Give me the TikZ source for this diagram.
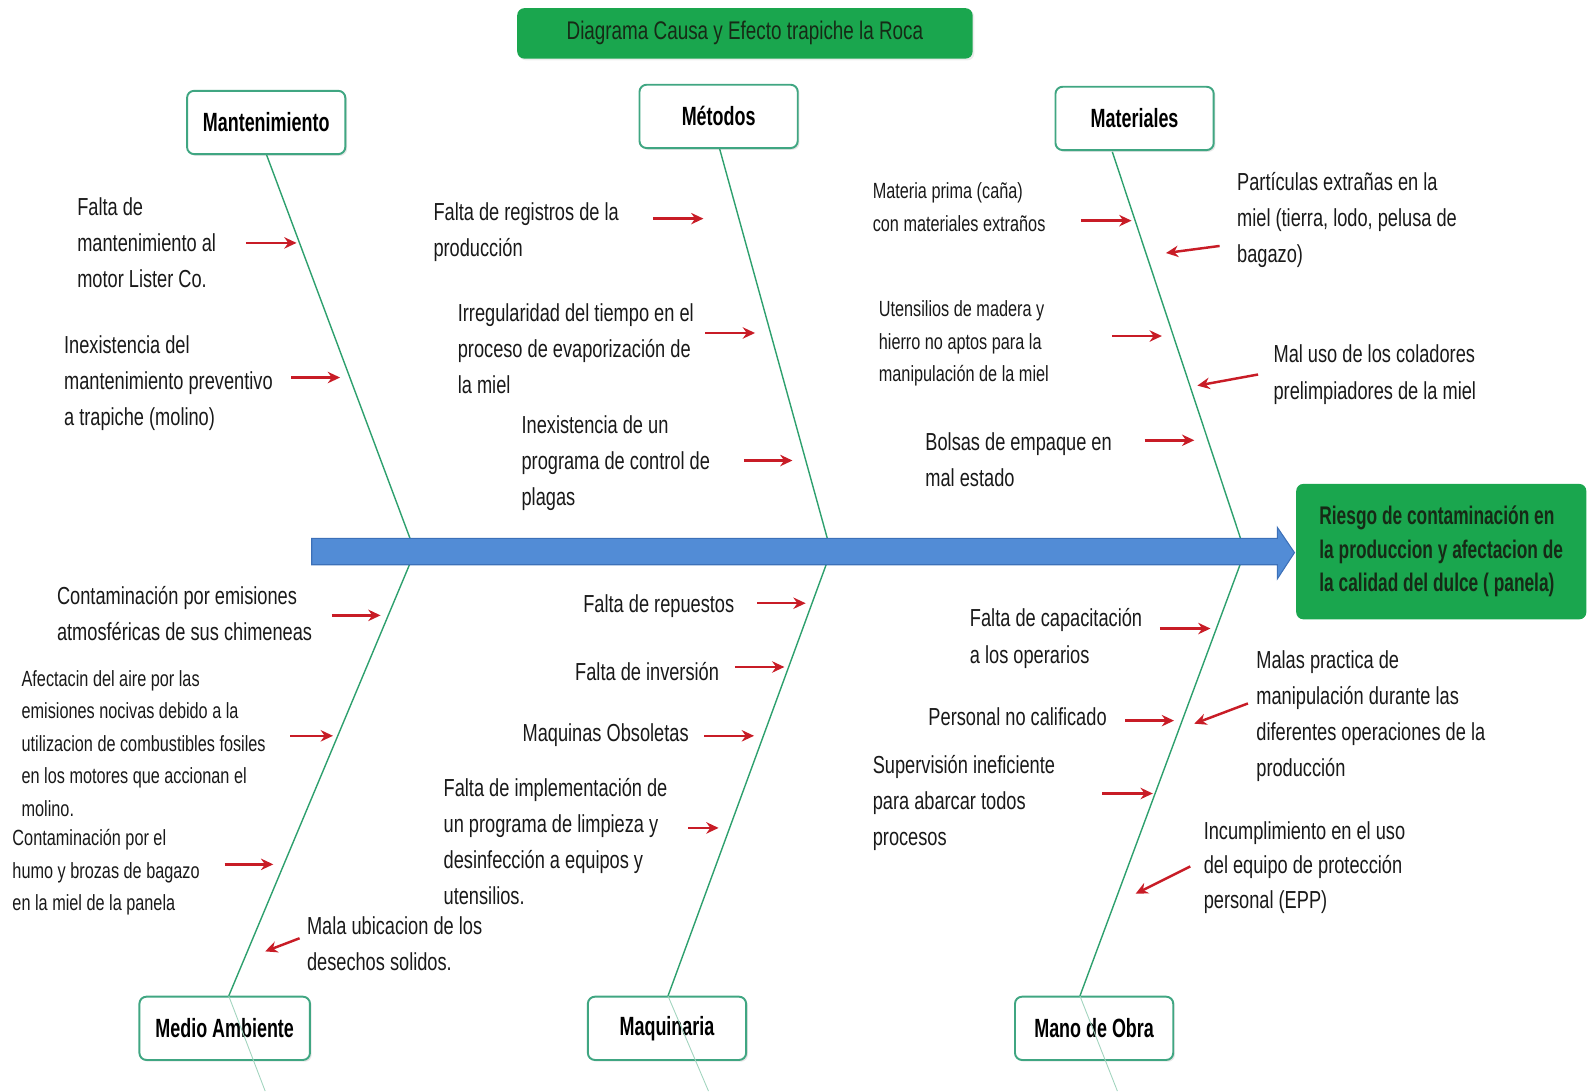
\documentclass[tikz,border=0pt]{standalone}
\usepackage{fontspec}
\setmainfont{Liberation Sans}[FakeStretch=0.74]
\newfontfamily\catfont{Liberation Sans}[FakeStretch=0.68]
\usetikzlibrary{arrows.meta,shadows}

\definecolor{fishgreen}{RGB}{26,166,78}
\definecolor{darkleaf}{RGB}{22,42,22}
\definecolor{catline}{RGB}{64,166,130}
\definecolor{boneline}{RGB}{46,160,110}
\definecolor{causered}{RGB}{200,28,38}
\definecolor{spineblue}{RGB}{82,140,214}
\definecolor{spineedge}{RGB}{60,112,184}
\definecolor{txtgray}{RGB}{25,25,25}

\tikzset{
  catbox/.style={draw=catline, line width=1.1pt, fill=white, rounded corners=4pt,
    minimum width=90pt, minimum height=36pt,
    drop shadow={opacity=0.2, shadow xshift=1pt, shadow yshift=-1pt},
    font=\catfont\bfseries\fontsize{15}{18}\selectfont},
  greenbox/.style={fill=fishgreen, rounded corners=4pt, text=darkleaf},
  textbase/.style={anchor=north west, inner sep=0pt, align=left, text=txtgray,
    execute at begin node=\strut},
  causetext/.style={textbase, yshift=9.75pt, font=\fontsize{14}{20.5}\selectfont},
  smalltext/.style={textbase, yshift=8.6pt, font=\fontsize{12.5}{18.5}\selectfont},
  bone/.style={draw=boneline, line width=0.8pt},
  tail/.style={draw=boneline!45, line width=0.5pt},
  cause/.style={draw=causered, line width=1.4pt, -{Stealth[length=7pt,width=6.5pt]}}
}

\begin{document}
\begin{tikzpicture}[x=0.02024cm, y=-0.02024cm]
  \useasboundingbox (0,0) rectangle (1568,1078);

  % Bones
  \coordinate (j1) at (410,545);
  \coordinate (j2) at (821,545);
  \coordinate (j3) at (1230,545);
  \coordinate (b1top) at (263,152);
  \coordinate (b2top) at (711,147);
  \coordinate (b3top) at (1099,150);
  \coordinate (b4bot) at (226,984);
  \coordinate (b5bot) at (660,984);
  \coordinate (b6bot) at (1067,984);
  \draw[bone] (b1top) -- (j1) -- (b4bot);
  \draw[bone] (b2top) -- (j2) -- (b5bot);
  \draw[bone] (b3top) -- (j3) -- (b6bot);

  % Spine
  \draw[fill=spineblue, draw=spineedge, line width=0.6pt]
    (308,532) -- (1262,532) -- (1262,521) -- (1279,546) -- (1262,572)
    -- (1262,558) -- (308,558) -- cycle;

  % Title
  \node[greenbox, minimum width=259pt, minimum height=28.7pt,
    drop shadow={opacity=0.15, shadow xshift=1pt, shadow yshift=-1pt},
    font=\fontsize{14.5}{17}\selectfont] (title) at (736,33)
    {Diagrama Causa y Efecto trapiche la Roca};

  % Effect
  \node[greenbox, minimum width=165pt, minimum height=77pt, align=left,
    font=\catfont\bfseries\fontsize{14.5}{19}\selectfont]
    (effect) at (1424,545)
    {Riesgo de contaminación en\\la produccion y afectacion de\\la calidad del dulce ( panela)};

  % Categories
  \node[catbox] (mant) at (263,121) {Mantenimiento};
  \node[catbox] (metod) at (710,115) {Métodos};
  \node[catbox] (mater) at (1121,117) {Materiales};
  \node[catbox, minimum width=97pt] (medio) at (222,1016) {Medio Ambiente};
  \node[catbox] (maqui) at (659,1016) {Maquinaria};
  \node[catbox] (mano) at (1081,1016) {Mano de Obra};

  \coordinate (t4) at (262,1078);
  \coordinate (t5) at (700,1078);
  \coordinate (t6) at (1104,1078);
  \draw[tail] (b4bot) -- (t4);
  \draw[tail] (b5bot) -- (t5);
  \draw[tail] (b6bot) -- (t6);

  % Causes: Mantenimiento
  \node[causetext] (c11) at (76,212) {Falta de\\mantenimiento al\\motor Lister Co.};
  \node[causetext] (c12) at (63,348) {Inexistencia del\\mantenimiento preventivo\\a trapiche (molino)};

  % Causes: Metodos
  \node[causetext] (c21) at (428,217) {Falta de registros de la\\producción};
  \node[causetext] (c22) at (452,317) {Irregularidad del tiempo en el\\proceso de evaporización de\\la miel};
  \node[causetext] (c23) at (515,427) {Inexistencia de un\\programa de control de\\plagas};

  % Causes: Materiales
  \node[smalltext] (c31) at (862,195) {Materia prima (caña)\\con materiales extraños};
  \node[causetext] (c32) at (1222,187) {Partículas extrañas en la\\miel (tierra, lodo, pelusa de\\bagazo)};
  \node[smalltext] (c33) at (868,312) {Utensilios de madera y\\hierro no aptos para la\\manipulación de la miel};
  \node[causetext, font=\fontsize{14}{21}\selectfont] (c34) at (1258,357) {Mal uso de los coladores\\prelimpiadores de la miel};
  \node[causetext] (c35) at (914,444) {Bolsas de empaque en\\mal estado};

  % Causes: Medio Ambiente
  \node[causetext] (c41) at (56,596) {Contaminación por emisiones\\atmosféricas de sus chimeneas};
  \node[smalltext] (c42) at (21,677) {Afectacin del aire por las\\emisiones nocivas debido a la\\utilizacion de combustibles fosiles\\en los motores que accionan el\\molino.};
  \node[smalltext] (c43) at (12,834) {Contaminación por el\\humo y brozas de bagazo\\en la miel de la panela};
  \node[causetext] (c44) at (303,922) {Mala ubicacion de los\\desechos solidos.};

  % Causes: Maquinaria
  \node[causetext] (c51) at (576,597) {Falta de repuestos};
  \node[causetext] (c52) at (568,664) {Falta de inversión};
  \node[causetext] (c53) at (516,724) {Maquinas Obsoletas};
  \node[causetext] (c54) at (438,786) {Falta de implementación de\\un programa de limpieza y\\desinfección a equipos y\\utensilios.};

  % Causes: Mano de Obra
  \node[causetext, font=\fontsize{14}{21}\selectfont] (c61) at (958,618) {Falta de capacitación\\a los operarios};
  \node[causetext] (c62) at (917,708) {Personal no calificado};
  \node[causetext] (c63) at (862,763) {Supervisión ineficiente\\para abarcar todos\\procesos};
  \node[causetext] (c64) at (1241,659) {Malas practica de\\manipulación durante las\\diferentes operaciones de la\\producción};
  \node[causetext, font=\fontsize{14}{19.8}\selectfont] (c65) at (1189,828) {Incumplimiento en el uso\\del equipo de protección\\personal (EPP)};

  % Red arrows
  \foreach \i/\xa/\ya/\xb/\yb in {
      1/243/240/293/240, 2/288/373/336/373,
      3/645/216/695/216, 4/697/329/746/329, 5/735/455/783/455,
      6/1068/218/1118/218, 7/1205/243/1152/250, 8/1099/332/1148/332,
      9/1243/370/1183/381, 10/1131/435/1180/435,
      11/328/608/376/608, 12/287/727/329/727, 13/222/854/270/854,
      14/296/927/262/940,
      15/748/596/796/596, 16/726/659/775/659, 17/696/727/745/727,
      18/680/818/710/818,
      19/1146/621/1196/621, 20/1112/712/1160/712, 21/1233/695/1180/715,
      22/1089/784/1139/784, 23/1176/856/1122/883} {
    \coordinate (s\i) at (\xa,\ya);
    \coordinate (e\i) at (\xb,\yb);
    \draw[cause] (s\i) -- (e\i);
  }
\end{tikzpicture}
\end{document}
